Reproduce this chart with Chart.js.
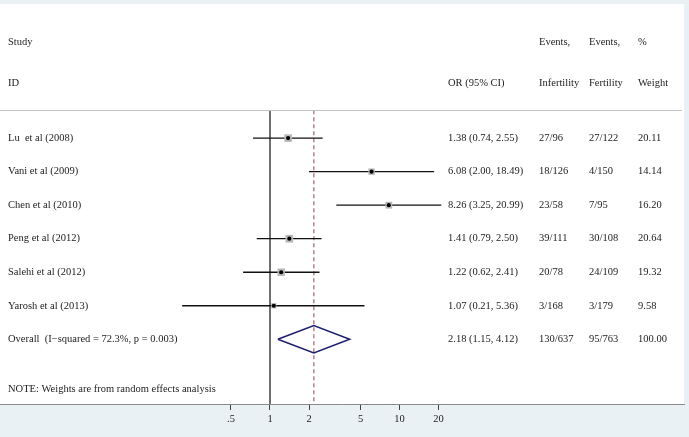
<!DOCTYPE html>
<html lang="en">
<head>
  <meta charset="UTF-8" />
  <title>Forest plot</title>
  <script src="https://cdn.jsdelivr.net/npm/chart.js"></script>
  <style>
    body { margin: 0; background: #fff; }
  </style>
</head>
<body>
  <canvas id="forest" width="689" height="437"></canvas>

  <script>
    const studies = ['Lu  et al (2008)', 'Vani et al (2009)', 'Chen et al (2010)', 'Peng et al (2012)', 'Salehi et al (2012)', 'Yarosh et al (2013)'];
    const oddsRatio = [1.38, 6.08, 8.26, 1.41, 1.22, 1.07];
    const ciLow = [0.74, 2.00, 3.25, 0.79, 0.62, 0.21];
    const ciHigh = [2.55, 18.49, 20.99, 2.50, 2.41, 5.36];
    const eventsInfertility = ['27/96', '18/126', '23/58', '39/111', '20/78', '3/168'];
    const eventsFertility = ['27/122', '4/150', '7/95', '30/108', '24/109', '3/179'];
    const weights = [20.11, 14.14, 16.20, 20.64, 19.32, 9.58];

    const overallLabel = 'Overall  (I\u2212squared = 72.3%, p = 0.003)';
    const overallOR = 2.18, overallLow = 1.15, overallHigh = 4.12;
    const overallInf = '130/637', overallFer = '95/763', overallWeight = 100.00;

    const tickValues = [0.5, 1, 2, 5, 10, 20];
    const tickLabels = ['.5', '1', '2', '5', '10', '20'];
    const noteText = 'NOTE: Weights are from random effects analysis';

    const FONT = '10.5px "Liberation Serif", "Times New Roman", serif';
    const overallRow = studies.length;
    const lineTop = -0.83;
    const lineBottom = 7.93;

    const fmt = (o, l, h) => `${o.toFixed(2)} (${l.toFixed(2)}, ${h.toFixed(2)})`;

    // one dataset per confidence interval
    const ciSets = studies.map((s, i) => ({
      data: [{ x: ciLow[i], y: i }, { x: ciHigh[i], y: i }],
      showLine: true,
      borderColor: '#111',
      borderWidth: 1.3,
      pointRadius: 0,
      order: 4
    }));

    const datasets = [
      {
        // null line at OR = 1
        data: [{ x: 1, y: lineTop }, { x: 1, y: lineBottom }],
        showLine: true, borderColor: '#111', borderWidth: 1.2, pointRadius: 0, order: 6
      },
      {
        // pooled estimate
        data: [{ x: overallOR, y: lineTop }, { x: overallOR, y: lineBottom }],
        showLine: true, borderColor: '#a8707e', borderWidth: 1.3, borderDash: [4, 3], pointRadius: 0, order: 5
      },
      ...ciSets,
      {
        // weight boxes
        data: oddsRatio.map((v, i) => ({ x: v, y: i })),
        pointStyle: 'rect',
        pointRadius: weights.map(w => 1.2 * Math.sqrt(w)),
        backgroundColor: '#b8b8b8',
        borderWidth: 0,
        order: 3
      },
      {
        data: oddsRatio.map((v, i) => ({ x: v, y: i })),
        pointStyle: 'circle',
        pointRadius: 2.1,
        backgroundColor: '#000',
        borderWidth: 0,
        order: 2
      },
      {
        // overall diamond
        data: [
          { x: overallLow, y: overallRow },
          { x: overallOR, y: overallRow - 0.41 },
          { x: overallHigh, y: overallRow },
          { x: overallOR, y: overallRow + 0.41 },
          { x: overallLow, y: overallRow }
        ],
        showLine: true, borderColor: '#1c1f6e', borderWidth: 1.5, pointRadius: 0, order: 1
      }
    ];

    const panelPlugin = {
      id: 'panel',
      beforeDraw(chart) {
        const { ctx, chartArea: a } = chart;
        ctx.save();
        ctx.fillStyle = '#eaf1f4';
        ctx.fillRect(0, 0, chart.width, chart.height);
        ctx.fillStyle = '#fff';
        ctx.fillRect(a.left, a.top, a.right - a.left, a.bottom - a.top);
        ctx.restore();
      },
      afterDraw(chart) {
        const { ctx, chartArea: a, scales: { y } } = chart;
        ctx.save();
        // separator under header
        ctx.strokeStyle = '#c4c4c4';
        ctx.lineWidth = 1;
        const sy = Math.round(y.getPixelForValue(lineTop)) + 0.5;
        ctx.beginPath();
        ctx.moveTo(a.left, sy);
        ctx.lineTo(a.right - 2, sy);
        ctx.stroke();

        ctx.font = FONT;
        ctx.fillStyle = '#222';
        ctx.textBaseline = 'middle';
        const cols = { study: 8, or: 448, inf: 539, fer: 589, wt: 638 };
        const put = (t, x, row) => ctx.fillText(t, x, y.getPixelForValue(row));

        put('Study', cols.study, -2.87);
        put('ID', cols.study, -1.65);
        put('OR (95% CI)', cols.or, -1.65);
        put('Events,', cols.inf, -2.87);
        put('Infertility', cols.inf, -1.65);
        put('Events,', cols.fer, -2.87);
        put('Fertility', cols.fer, -1.65);
        put('%', cols.wt, -2.87);
        put('Weight', cols.wt, -1.65);

        studies.forEach((s, i) => {
          put(s, cols.study, i);
          put(fmt(oddsRatio[i], ciLow[i], ciHigh[i]), cols.or, i);
          put(eventsInfertility[i], cols.inf, i);
          put(eventsFertility[i], cols.fer, i);
          put(weights[i].toFixed(2), cols.wt, i);
        });
        put(overallLabel, cols.study, overallRow);
        put(fmt(overallOR, overallLow, overallHigh), cols.or, overallRow);
        put(overallInf, cols.inf, overallRow);
        put(overallFer, cols.fer, overallRow);
        put(overallWeight.toFixed(2), cols.wt, overallRow);
        put(noteText, cols.study, 7.5);
        ctx.restore();
      }
    };

    // log axis: 1 sits at x=270, one doubling is 39px
    const areaWidth = 684;
    const xMin = Math.pow(2, -270 / 39);
    const xMax = Math.pow(2, (areaWidth - 270) / 39);

    new Chart(document.getElementById('forest'), {
      type: 'scatter',
      data: { datasets },
      plugins: [panelPlugin],
      options: {
        responsive: false,
        animation: false,
        layout: { autoPadding: false, padding: { top: 4, right: 5, left: 0, bottom: 0 } },
        plugins: { legend: { display: false }, tooltip: { enabled: false } },
        scales: {
          x: {
            type: 'logarithmic',
            min: xMin,
            max: xMax,
            afterBuildTicks: s => { s.ticks = tickValues.map(v => ({ value: v })); },
            afterFit: s => { s.height = 33; s.paddingLeft = 0; s.paddingRight = 0; },
            border: { display: true, color: '#8a8a8a', width: 1 },
            grid: { drawOnChartArea: false, drawTicks: true, tickLength: 6, color: '#444' },
            ticks: {
              autoSkip: false,
              maxRotation: 0,
              padding: 3,
              color: '#222',
              font: { family: '"Liberation Serif", "Times New Roman", serif', size: 10.5 },
              callback: v => { const k = tickValues.indexOf(v); return k >= 0 ? tickLabels[k] : ''; }
            }
          },
          y: {
            type: 'linear',
            display: false,
            reverse: true,
            min: -4,
            max: lineBottom
          }
        }
      }
    });
  </script>
</body>
</html>
